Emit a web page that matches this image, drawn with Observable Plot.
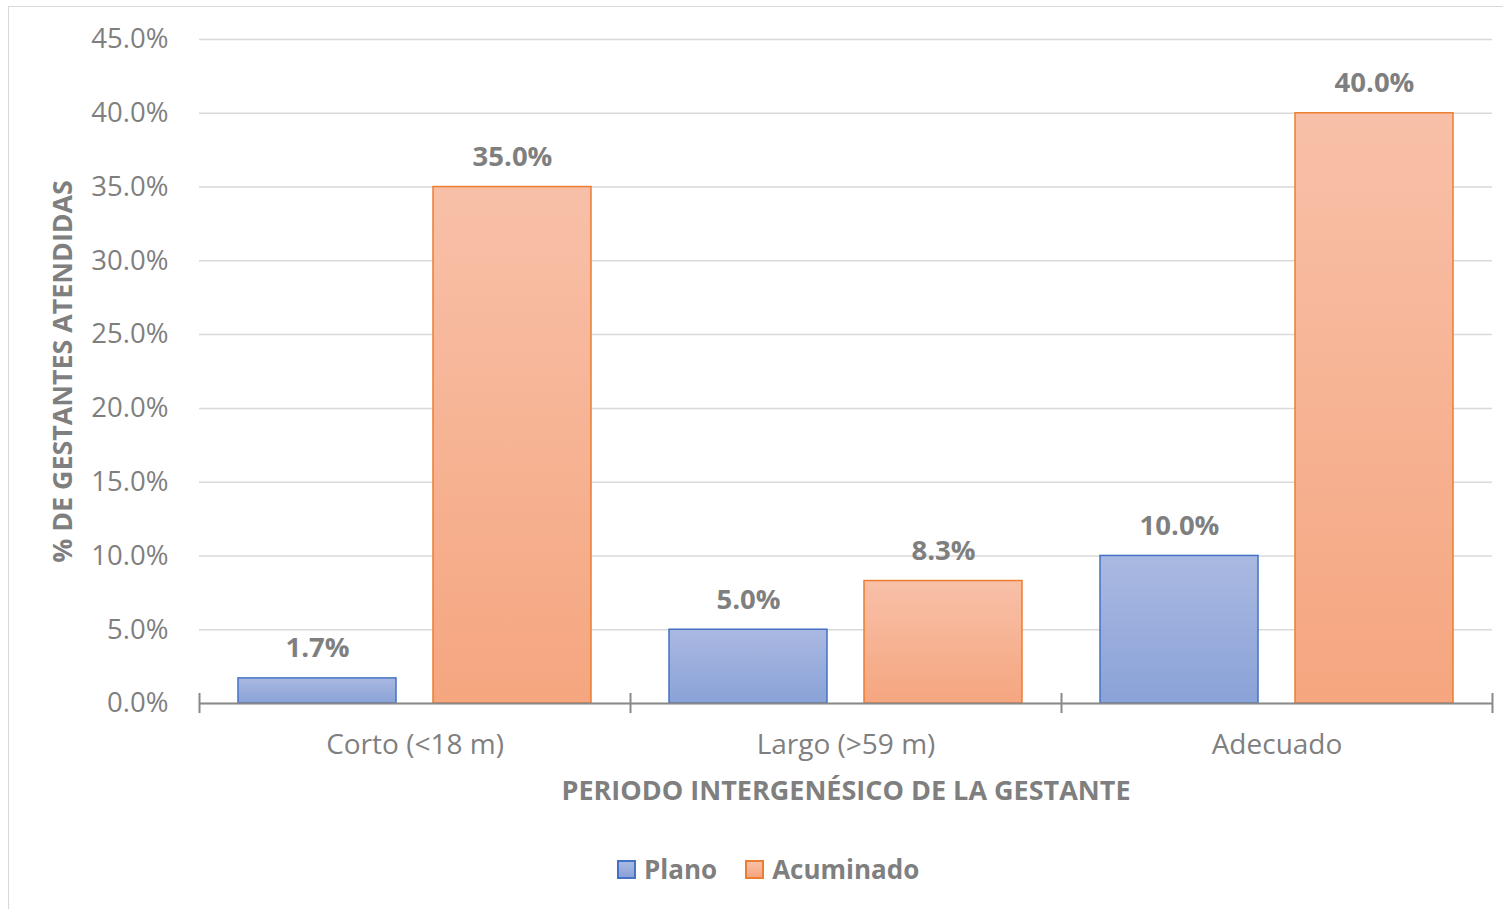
<!DOCTYPE html>
<html>
<head>
<meta charset="utf-8">
<script src="https://cdn.jsdelivr.net/npm/d3@7"></script>
<script src="https://cdn.jsdelivr.net/npm/@observablehq/plot@0.6"></script>
<style>
  html, body { margin: 0; padding: 0; background: #fff; }
  body { width: 1503px; height: 909px; position: relative; overflow: hidden; font-family: "Open Sans", sans-serif; }
  #frame { position: absolute; left: 8px; top: 6px; width: 1520px; height: 930px; border: 1.5px solid #d9d9d9; box-sizing: border-box; }
  #chart { position: absolute; left: 0; top: 0; }
  #legend { position: absolute; left: 617px; top: 851px; display: flex; align-items: center; font-size: 26px; font-weight: bold; color: #7f7f7f; }
  .item { display: flex; align-items: center; margin-right: 28px; }
  .sw { width: 15px; height: 15px; margin-right: 8px; box-sizing: content-box; }
</style>
</head>
<body>
<div id="frame"></div>
<div id="chart"></div>
<div id="legend"></div>
<script>
const categories = ["Corto (<18 m)", "Largo (>59 m)", "Adecuado"];
const series = ["Plano", "Acuminado"];
const plano = [1.7, 5.0, 10.0];
const acuminado = [35.0, 8.3, 40.0];
const yTicks = [0, 5, 10, 15, 20, 25, 30, 35, 40, 45];
const xTitle = "PERIODO INTERGENÉSICO DE LA GESTANTE";
const yTitle = "% DE GESTANTES ATENDIDAS";

const colors = {
  Plano: { top: "#AAB9E1", bottom: "#8AA2D8", stroke: "#4472C4", id: "gPlano" },
  Acuminado: { top: "#F8C0A8", bottom: "#F5A67F", stroke: "#ED7D31", id: "gAcum" }
};

const data = categories.flatMap((c, i) => [
  { cat: c, s: series[0], v: plano[i] },
  { cat: c, s: series[1], v: acuminado[i] }
]);

const W = 1503, H = 820, mL = 199, mR = 11, mT = 39, mB = 117;
const pInner = 0.19, pOuter = 0.2;
const facetW = (W - mL - mR) / categories.length;
const step = facetW / (series.length - pInner + 2 * pOuter);
const edgeOff = step * pOuter + step * (1 - pInner) / 2;
const gray = "#7f7f7f";
const font = "'Open Sans', sans-serif";

const bars = series.map(s => Plot.barY(data.filter(d => d.s === s), {
  fx: "cat", x: "s", y: "v",
  fill: `url(#${colors[s].id})`, stroke: colors[s].stroke, strokeWidth: 1.5
}));

const chart = Plot.plot({
  width: W, height: H,
  marginLeft: mL, marginRight: mR, marginTop: mT, marginBottom: mB,
  fx: { domain: categories, padding: 0 },
  x: { domain: series, paddingInner: pInner, paddingOuter: pOuter, axis: null },
  y: { domain: [0, 45] },
  style: { fontFamily: font, fontSize: "27px", color: gray, background: "transparent", overflow: "visible" },
  marks: [
    Plot.gridY(yTicks, { stroke: "#d9d9d9", strokeOpacity: 1, strokeWidth: 1.5 }),
    Plot.axisY(yTicks, { tickSize: 0, tickPadding: 31, tickFormat: d => d.toFixed(1) + "%", label: null, fontSize: 27.5, fill: gray }),
    Plot.axisFx({ anchor: "bottom", tickSize: 0, tickPadding: 31, label: null, fontSize: 28, fill: gray }),
    ...bars,
    Plot.ruleY([0], { stroke: "#898989", strokeWidth: 2 }),
    Plot.ruleX(categories, { fx: d => d, x: () => series[0], y1: 0, y2: 0, dx: -edgeOff, insetTop: -10, insetBottom: -10, stroke: "#898989", strokeWidth: 2 }),
    Plot.ruleX([categories[categories.length - 1]], { fx: d => d, x: () => series[series.length - 1], y1: 0, y2: 0, dx: edgeOff, insetTop: -10, insetBottom: -10, stroke: "#898989", strokeWidth: 2 }),
    Plot.text(data, { fx: "cat", x: "s", y: "v", text: d => d.v.toFixed(1) + "%", dy: -21, lineAnchor: "bottom", fontWeight: "bold", fontSize: 27.5, fill: gray }),
    Plot.text([yTitle], { fx: () => categories[0], frameAnchor: "left", textAnchor: "middle", lineAnchor: "middle", rotate: -90, dx: -136, fontWeight: "bold", fontSize: 26.8, fill: gray }),
    Plot.text([xTitle], { fx: () => categories[1], frameAnchor: "bottom", textAnchor: "middle", lineAnchor: "middle", dy: 88, fontWeight: "bold", fontSize: 27, fill: gray })
  ]
});

const svg = chart.tagName.toLowerCase() === "svg" ? chart : chart.querySelector("svg");
const ns = "http://www.w3.org/2000/svg";
const defs = document.createElementNS(ns, "defs");
defs.innerHTML = series.map(s => `<linearGradient id="${colors[s].id}" x1="0" y1="0" x2="0" y2="1"><stop offset="0" stop-color="${colors[s].top}"/><stop offset="1" stop-color="${colors[s].bottom}"/></linearGradient>`).join("");
svg.insertBefore(defs, svg.firstChild);
document.getElementById("chart").appendChild(chart);

const legend = document.getElementById("legend");
series.forEach(s => {
  const it = document.createElement("div");
  it.className = "item";
  const sw = document.createElement("span");
  sw.className = "sw";
  sw.style.background = `linear-gradient(${colors[s].top}, ${colors[s].bottom})`;
  sw.style.border = `2px solid ${colors[s].stroke}`;
  const t = document.createElement("span");
  t.textContent = s;
  it.appendChild(sw); it.appendChild(t);
  legend.appendChild(it);
});
</script>
</body>
</html>
